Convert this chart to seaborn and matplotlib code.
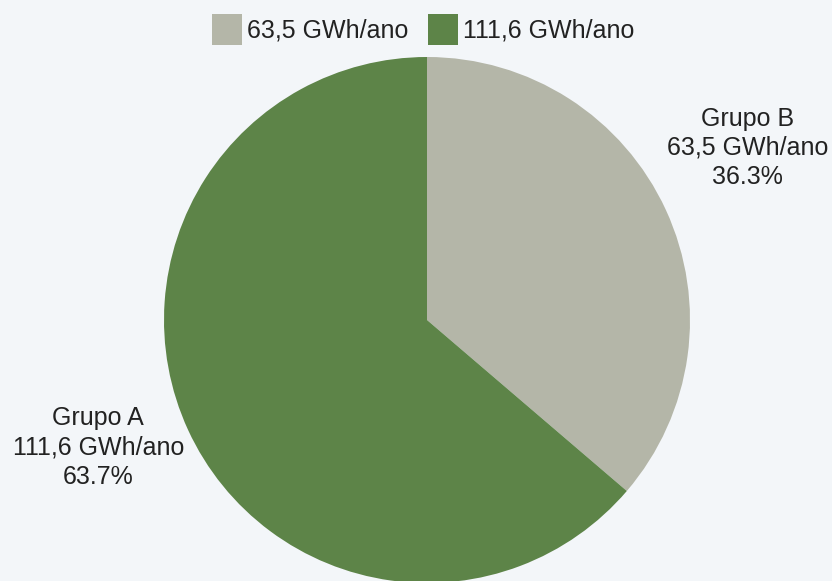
import numpy as np
import pandas as pd
import seaborn as sns
import matplotlib.pyplot as plt
from matplotlib.patches import Patch

# data
grupos = ['Grupo B', 'Grupo A']
energia = [63.5, 111.6]
energia_txt = ['63,5 GWh/ano', '111,6 GWh/ano']
percent_txt = ['36.3%', '63.7%']
cores = ['#b4b6a8', '#5d8448']

sns.set_theme(style='white')
plt.rcParams['font.family'] = ['Liberation Sans', 'DejaVu Sans']

bg = '#f3f6f9'
fig = plt.figure(figsize=(8.32, 5.81), dpi=100, facecolor=bg)
ax = fig.add_axes([164/832, -2/581, 526/832, 526/581])
ax.set_facecolor(bg)

ax.pie(energia, colors=cores, startangle=90, counterclock=False,
       wedgeprops=dict(linewidth=0))
ax.set_xlim(-1, 1)
ax.set_ylim(-1, 1)
ax.set_aspect('equal')
ax.axis('off')

# labels next to wedges
pos = [(1.22, 0.655), (-1.25, -0.485)]
for (x, y), g, e, p in zip(pos, grupos, energia_txt, percent_txt):
    ax.text(x, y, f'{g}\n{e}\n{p}', ha='center', va='center', fontsize=18,
            color='#222222', linespacing=1.27, clip_on=False)

# legend
handles = [Patch(facecolor=c, edgecolor='none') for c in cores]
fig.legend(handles, energia_txt, loc='upper center', bbox_to_anchor=(0.509, 1.014),
           ncol=2, frameon=False, fontsize=18, handlelength=1.2, handleheight=1.5,
           handletextpad=0.2, columnspacing=0.8, labelcolor='#222222')

plt.savefig('out.png', dpi=100, facecolor=bg)
